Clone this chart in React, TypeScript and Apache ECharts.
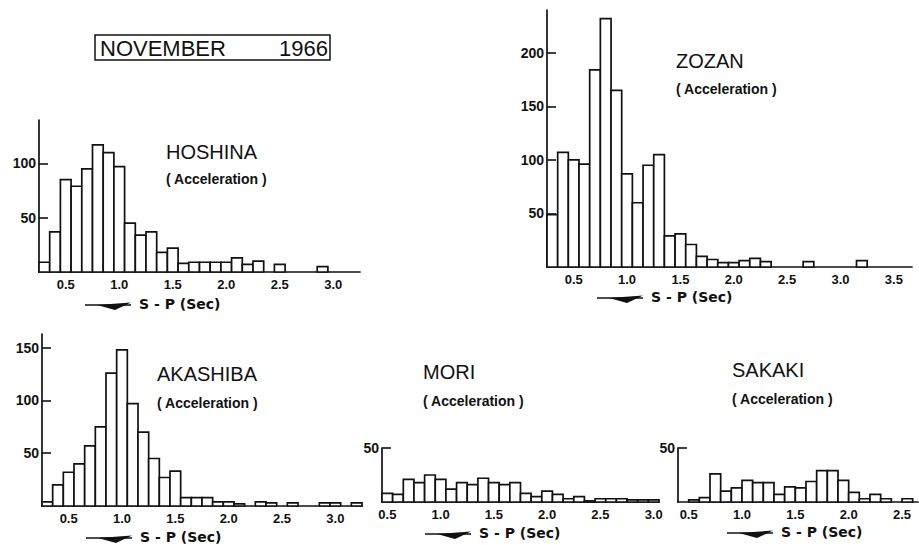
import React, { useEffect, useRef } from "react";
import * as echarts from "echarts";

// ---------- data ----------
const BIN_WIDTH = 0.1;

// S-P histogram counts, one value per 0.1 s bin, starting at the first bin centre
const hoshinaFirstBin = 0.3;
const hoshinaCounts = [9, 37, 85, 79, 95, 117, 110, 97, 45, 34, 37, 18, 22, 8, 9, 9, 9, 9, 13, 7, 10, 0, 7, 0, 0, 0, 5, 0, 0, 0];

const zozanFirstBin = 0.3;
const zozanCounts = [49, 107, 100, 96, 184, 232, 165, 87, 60, 95, 105, 29, 31, 21, 10, 7, 4, 4, 6, 8, 5, 0, 0, 0, 5, 0, 0, 0, 0, 6, 0, 0, 0, 0];

const akashibaFirstBin = 0.3;
const akashibaCounts = [4, 20, 32, 40, 57, 75, 126, 148, 97, 70, 45, 27, 33, 8, 8, 8, 4, 4, 2, 0, 4, 3, 0, 3, 0, 0, 3, 3, 0, 3];

const moriFirstBin = 0.5;
const moriCounts = [8, 7, 21, 18, 25, 21, 12, 18, 16, 22, 18, 16, 18, 8, 5, 10, 7, 3, 5, 1, 3, 3, 3, 2, 2, 2];

const sakakiFirstBin = 0.45;
const sakakiCounts = [0, 2, 4, 26, 10, 13, 20, 18, 18, 7, 14, 13, 19, 29, 29, 20, 9, 3, 7, 3, 0, 3];

const xTicksTo3 = [0.5, 1.0, 1.5, 2.0, 2.5, 3.0];
const xTicksTo35 = [0.5, 1.0, 1.5, 2.0, 2.5, 3.0, 3.5];
const xTicksTo25 = [0.5, 1.0, 1.5, 2.0, 2.5];
const yTicksHoshina = [50, 100];
const yTicksZozan = [50, 100, 150, 200];
const yTicksAkashiba = [50, 100, 150];
const yTicksSmall = [50];

const titleMonth = "NOVEMBER";
const titleYear = "1966";
const subTitle = "( Acceleration )";
const xAxisName = "S - P (Sec)";

// ---------- layout ----------
type Panel = {
  name: string;
  first: number;
  counts: number[];
  xMin: number;
  xMax: number;
  yMax: number;
  xTicks: number[];
  yTicks: number[];
  grid: { left: number; top: number; width: number; height: number };
  nameX: number;
  nameY: number;
  accY: number;
  spX: number;
  spY: number;
};

const panels: Panel[] = [
  {
    name: "HOSHINA", first: hoshinaFirstBin, counts: hoshinaCounts,
    xMin: 0.25, xMax: 3.25, yMax: 140, xTicks: xTicksTo3, yTicks: yTicksHoshina,
    grid: { left: 39, top: 120, width: 321, height: 152 },
    nameX: 166, nameY: 152, accY: 179, spX: 139, spY: 304,
  },
  {
    name: "ZOZAN", first: zozanFirstBin, counts: zozanCounts,
    xMin: 0.25, xMax: 3.67, yMax: 240, xTicks: xTicksTo35, yTicks: yTicksZozan,
    grid: { left: 547, top: 10, width: 365, height: 257 },
    nameX: 676, nameY: 61, accY: 89, spX: 651, spY: 297,
  },
  {
    name: "AKASHIBA", first: akashibaFirstBin, counts: akashibaCounts,
    xMin: 0.25, xMax: 3.25, yMax: 163, xTicks: xTicksTo3, yTicks: yTicksAkashiba,
    grid: { left: 42, top: 334, width: 320, height: 172 },
    nameX: 157, nameY: 374, accY: 403, spX: 140, spY: 537,
  },
  {
    name: "MORI", first: moriFirstBin, counts: moriCounts,
    xMin: 0.45, xMax: 3.05, yMax: 50, xTicks: xTicksTo3, yTicks: yTicksSmall,
    grid: { left: 382, top: 448, width: 277, height: 54 },
    nameX: 423, nameY: 372, accY: 401, spX: 479, spY: 533,
  },
  {
    name: "SAKAKI", first: sakakiFirstBin, counts: sakakiCounts,
    xMin: 0.4, xMax: 2.65, yMax: 50, xTicks: xTicksTo25, yTicks: yTicksSmall,
    grid: { left: 678, top: 448, width: 240, height: 54 },
    nameX: 732, nameY: 370, accY: 399, spX: 781, spY: 532,
  },
];

const INK = "#111";
const LABEL_FONT = "'Liberation Sans', Arial, sans-serif";
const ROUND_FONT = "'DejaVu Sans', 'Liberation Sans', sans-serif";

function arrow(xEnd: number, y: number) {
  return [
    {
      type: "line",
      shape: { x1: xEnd - 46, y1: y, x2: xEnd, y2: y },
      style: { stroke: INK, lineWidth: 1.6 },
    },
    {
      type: "polygon",
      shape: { points: [[xEnd - 34, y], [xEnd, y - 2.5], [xEnd - 16, y + 5]] },
      style: { fill: INK },
    },
  ];
}

export default function App() {
  const ref = useRef<HTMLDivElement>(null);

  useEffect(() => {
    if (!ref.current) return;
    const chart = echarts.init(ref.current, undefined, { renderer: "svg" });

    const graphics: any[] = [
      {
        type: "rect",
        shape: { x: 95, y: 35, width: 235, height: 25 },
        style: { fill: "none", stroke: INK, lineWidth: 1.5 },
      },
      {
        type: "text",
        x: 100,
        y: 48.5,
        style: { text: titleMonth, fill: INK, fontSize: 22, fontFamily: LABEL_FONT, align: "left", verticalAlign: "middle" },
      },
      {
        type: "text",
        x: 328,
        y: 48.5,
        style: { text: titleYear, fill: INK, fontSize: 22, fontFamily: LABEL_FONT, align: "right", verticalAlign: "middle" },
      },
    ];

    panels.forEach((p) => {
      graphics.push({
        type: "text",
        x: p.nameX,
        y: p.nameY,
        style: { text: p.name, fill: INK, fontSize: 20, fontFamily: LABEL_FONT, align: "left", verticalAlign: "middle" },
      });
      graphics.push({
        type: "text",
        x: p.nameX,
        y: p.accY,
        style: { text: subTitle, fill: INK, fontSize: 14, fontWeight: "bold", fontFamily: LABEL_FONT, align: "left", verticalAlign: "middle" },
      });
      graphics.push({
        type: "text",
        x: p.spX,
        y: p.spY,
        style: { text: xAxisName, fill: INK, fontSize: 14, fontWeight: "bold", fontFamily: ROUND_FONT, align: "left", verticalAlign: "middle" },
      });
      graphics.push(...arrow(p.spX - 8, p.spY + 1));
    });

    const option: any = {
      animation: false,
      backgroundColor: "#fff",
      grid: panels.map((p) => ({ ...p.grid, containLabel: false })),
      xAxis: panels.map((p, i) => ({
        type: "value",
        gridIndex: i,
        min: p.xMin,
        max: p.xMax,
        axisLine: { show: true, onZero: false, lineStyle: { color: INK, width: 1.7 } },
        axisTick: { show: false },
        splitLine: { show: false },
        axisLabel: {
          customValues: p.xTicks,
          formatter: (v: number) => v.toFixed(1),
          color: INK,
          fontSize: 13,
          fontWeight: "bold",
          fontFamily: LABEL_FONT,
          margin: 6,
        },
      })),
      yAxis: panels.map((p, i) => ({
        type: "value",
        gridIndex: i,
        min: 0,
        max: p.yMax,
        axisLine: { show: true, onZero: false, lineStyle: { color: INK, width: 1.7 } },
        axisTick: { show: true, inside: true, length: 9, customValues: p.yTicks, lineStyle: { color: INK, width: 1.6 } },
        splitLine: { show: false },
        axisLabel: {
          customValues: p.yTicks,
          color: INK,
          fontSize: 14,
          fontWeight: "bold",
          fontFamily: LABEL_FONT,
          margin: 3,
        },
      })),
      series: panels.map((p, i) => ({
        type: "custom",
        name: p.name,
        xAxisIndex: i,
        yAxisIndex: i,
        clip: false,
        encode: { x: [0, 1], y: 2 },
        data: p.counts.map((c, k) => [
          p.first + (k - 0.5) * BIN_WIDTH,
          p.first + (k + 0.5) * BIN_WIDTH,
          c,
        ]),
        renderItem: (_params: any, api: any) => {
          const v = api.value(2);
          if (!v) return null;
          const a = api.coord([api.value(0), v]);
          const b = api.coord([api.value(1), 0]);
          return {
            type: "rect",
            shape: { x: a[0], y: a[1], width: b[0] - a[0], height: b[1] - a[1] },
            style: { fill: "#fff", stroke: INK, lineWidth: 1.7 },
          };
        },
      })),
      graphic: graphics,
    };

    chart.setOption(option);
    return () => chart.dispose();
  }, []);

  return (
    <div
      ref={ref}
      style={{ position: "absolute", left: 0, top: 0, width: 919, height: 545 }}
    />
  );
}
